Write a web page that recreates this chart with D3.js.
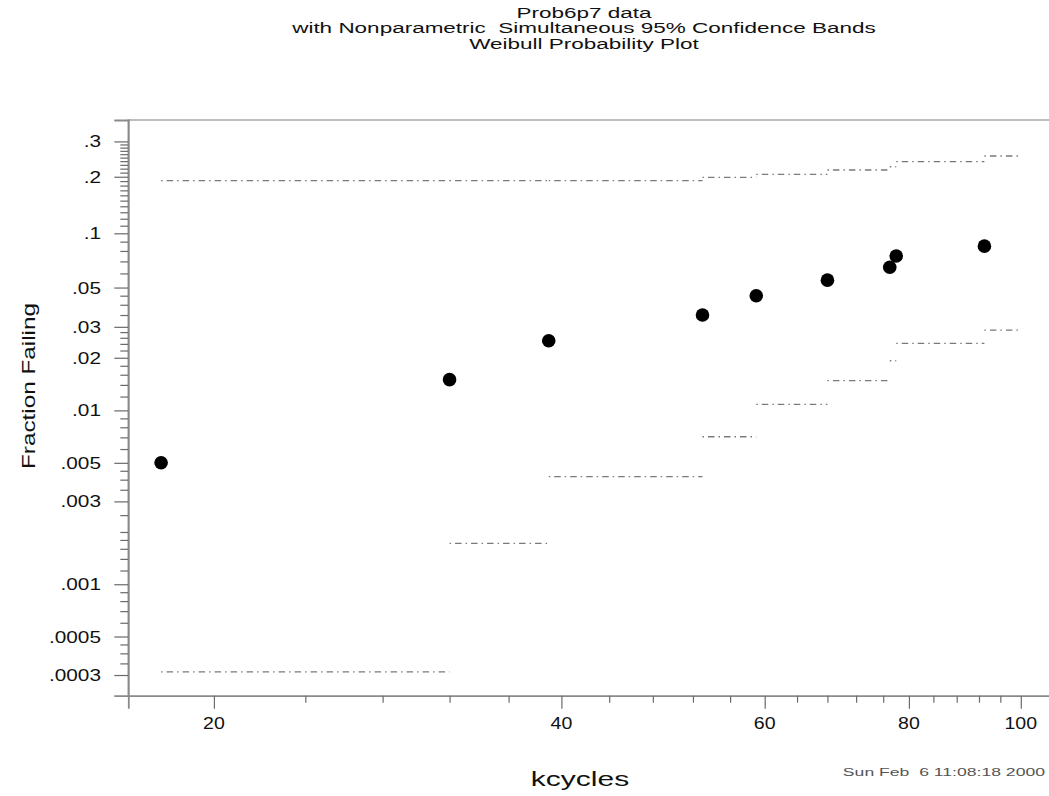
<!DOCTYPE html>
<html>
<head>
<meta charset="utf-8">
<script src="https://cdn.jsdelivr.net/npm/d3@7"></script>
<style>
  html, body { margin: 0; padding: 0; background: #fff; }
  svg { display: block; }
  text { font-family: "Liberation Sans", Arial, sans-serif; white-space: pre; }
</style>
</head>
<body>
<svg id="chart" width="1049" height="796"></svg>
<script>
// Failure times (kcycles) and plotting positions (i - 0.5)/n
const kcycles = [18, 32, 39, 53, 59, 68, 77, 78, 93];
const fractionFailing = [0.005, 0.015, 0.025, 0.035, 0.045, 0.055, 0.065, 0.075, 0.085];

// Simultaneous 95% band: step edges and the band level on each step
const bandEdges = [18, 32, 39, 53, 59, 68, 77, 78, 93, 100];
const upperBand = [0.1908, 0.1908, 0.1908, 0.1987, 0.2059, 0.2165, 0.2250, 0.2385, 0.2546];
const lowerBand = [0.000313, 0.00172, 0.00416, 0.00706, 0.01084, 0.01479, 0.01923, 0.02417, 0.02877];

// Axis ticks
const xMajorTicks = [20, 40, 60, 80, 100];
const xMinorTicks = [24, 28, 32, 36, 44, 48, 52, 56, 64, 68, 72, 76, 84, 88, 92, 96];
const yMajorTicks = [0.3, 0.2, 0.1, 0.05, 0.03, 0.02, 0.01, 0.005, 0.003, 0.001, 0.0005, 0.0003];
const yTickLabels = [".3", ".2", ".1", ".05", ".03", ".02", ".01", ".005", ".003", ".001", ".0005", ".0003"];
const yMinorTicks = [0.29, 0.28, 0.27, 0.26, 0.25, 0.24, 0.23, 0.22, 0.21,
  0.19, 0.18, 0.17, 0.16, 0.15, 0.14, 0.13, 0.12, 0.11,
  0.09, 0.08, 0.07, 0.06, 0.045, 0.04, 0.035,
  0.028, 0.026, 0.024, 0.022, 0.018, 0.016, 0.014, 0.012,
  0.009, 0.008, 0.007, 0.006, 0.0045, 0.004, 0.0035,
  0.0025, 0.002, 0.0018, 0.0016, 0.0014, 0.0012,
  0.0009, 0.0008, 0.0007, 0.0006, 0.00045, 0.0004, 0.00035];

const titleLines = ["Prob6p7 data", "with Nonparametric  Simultaneous 95% Confidence Bands", "Weibull Probability Plot"];
const xTitle = "kcycles";
const yTitle = "Fraction Failing";
const stamp = "Sun Feb  6 11:08:18 2000";

// Plot frame
const frameLeft = 128.3, frameRight = 1050, frameTop = 120, frameBottom = 695.7;

// Weibull paper: the vertical position is logarithmic in -ln(1 - p)
const wb = p => -Math.log(1 - p);

const x = d3.scaleLog().domain([16.86, 106.0]).range([frameLeft, frameRight]);
const y = d3.scaleLog().domain([wb(0.000228), wb(0.3774)]).range([frameBottom, frameTop]);
const yp = p => y(wb(p));

const svg = d3.select("#chart");
const axisColor = "#8a8a8a";

// frame (top and left edges; the right edge falls just outside the page)
svg.append("path")
  .attr("d", `M${frameLeft},${frameBottom}V${frameTop}H${frameRight}`)
  .attr("fill", "none").attr("stroke", "#a8a8a8").attr("stroke-width", 1.6);

// horizontally stretched text
function label(g, txt, px, py, size, sx, anchor, fill, rot) {
  return g.append("text")
    .attr("transform", `translate(${px},${py})${rot ? ` rotate(${rot})` : ""} scale(${sx},1)`)
    .attr("text-anchor", anchor)
    .attr("font-size", size)
    .attr("fill", fill || "#111")
    .text(txt);
}

// x axis
const gx = svg.append("g").attr("transform", `translate(0,${frameBottom})`);
gx.call(d3.axisBottom(x).tickValues(xMajorTicks).tickSize(13).tickFormat(""));
gx.select(".domain").attr("stroke", axisColor).attr("stroke-width", 1.8);
gx.selectAll(".tick line").attr("stroke", "#6a6a6a").attr("stroke-width", 1.2);
const gxm = svg.append("g").attr("transform", `translate(0,${frameBottom})`);
gxm.call(d3.axisBottom(x).tickValues(xMinorTicks).tickSize(7).tickFormat(""));
gxm.select(".domain").remove();
gxm.selectAll(".tick line").attr("stroke", "#6a6a6a").attr("stroke-width", 1.2);
xMajorTicks.forEach(v => label(svg, String(v), x(v), 729, 17, 1.15, "middle"));

// y axis (positions through the Weibull log scale)
const gy = svg.append("g").attr("transform", `translate(${frameLeft},0)`);
gy.call(d3.axisLeft(y).tickValues(yMajorTicks.map(wb)).tickSize(14).tickFormat(""));
gy.select(".domain").attr("stroke", axisColor).attr("stroke-width", 1.8);
gy.selectAll(".tick line").attr("stroke", "#6a6a6a").attr("stroke-width", 1.2);
const gym = svg.append("g").attr("transform", `translate(${frameLeft},0)`);
gym.call(d3.axisLeft(y).tickValues(yMinorTicks.map(wb)).tickSize(8).tickFormat(""));
gym.select(".domain").remove();
gym.selectAll(".tick line").attr("stroke", "#6a6a6a").attr("stroke-width", 1.2);
yMajorTicks.forEach((p, i) => label(svg, yTickLabels[i], 101, yp(p) + 6, 16, 1.3, "end"));

// confidence bands: one horizontal dash-dot piece per step, no risers
[upperBand, lowerBand].forEach(levels => {
  svg.append("g").selectAll("line")
    .data(levels.map((p, i) => [bandEdges[i], bandEdges[i + 1], p]))
    .join("line")
    .attr("x1", d => x(d[0]))
    .attr("x2", d => x(d[1]))
    .attr("y1", d => yp(d[2]))
    .attr("y2", d => yp(d[2]))
    .attr("stroke", "#7a7a7a")
    .attr("stroke-width", 1.3)
    .attr("stroke-dasharray", "1.5,4,6.5,4");
});

// nonparametric estimates
svg.append("g").selectAll("circle")
  .data(kcycles.map((k, i) => [k, fractionFailing[i]]))
  .join("circle")
  .attr("cx", d => x(d[0]))
  .attr("cy", d => yp(d[1]))
  .attr("r", 6.8)
  .attr("fill", "#000");

// titles
titleLines.forEach((t, i) => label(svg, t, 584, 17.5 + i * 15.6, 15, 1.5, "middle"));
label(svg, xTitle, 580, 786, 20, 1.5, "middle");
label(svg, yTitle, 35, 386, 18, 1.35, "middle", "#111", -90);
label(svg, stamp, 1045, 776, 11.5, 1.53, "end", "#555");
</script>
</body>
</html>
